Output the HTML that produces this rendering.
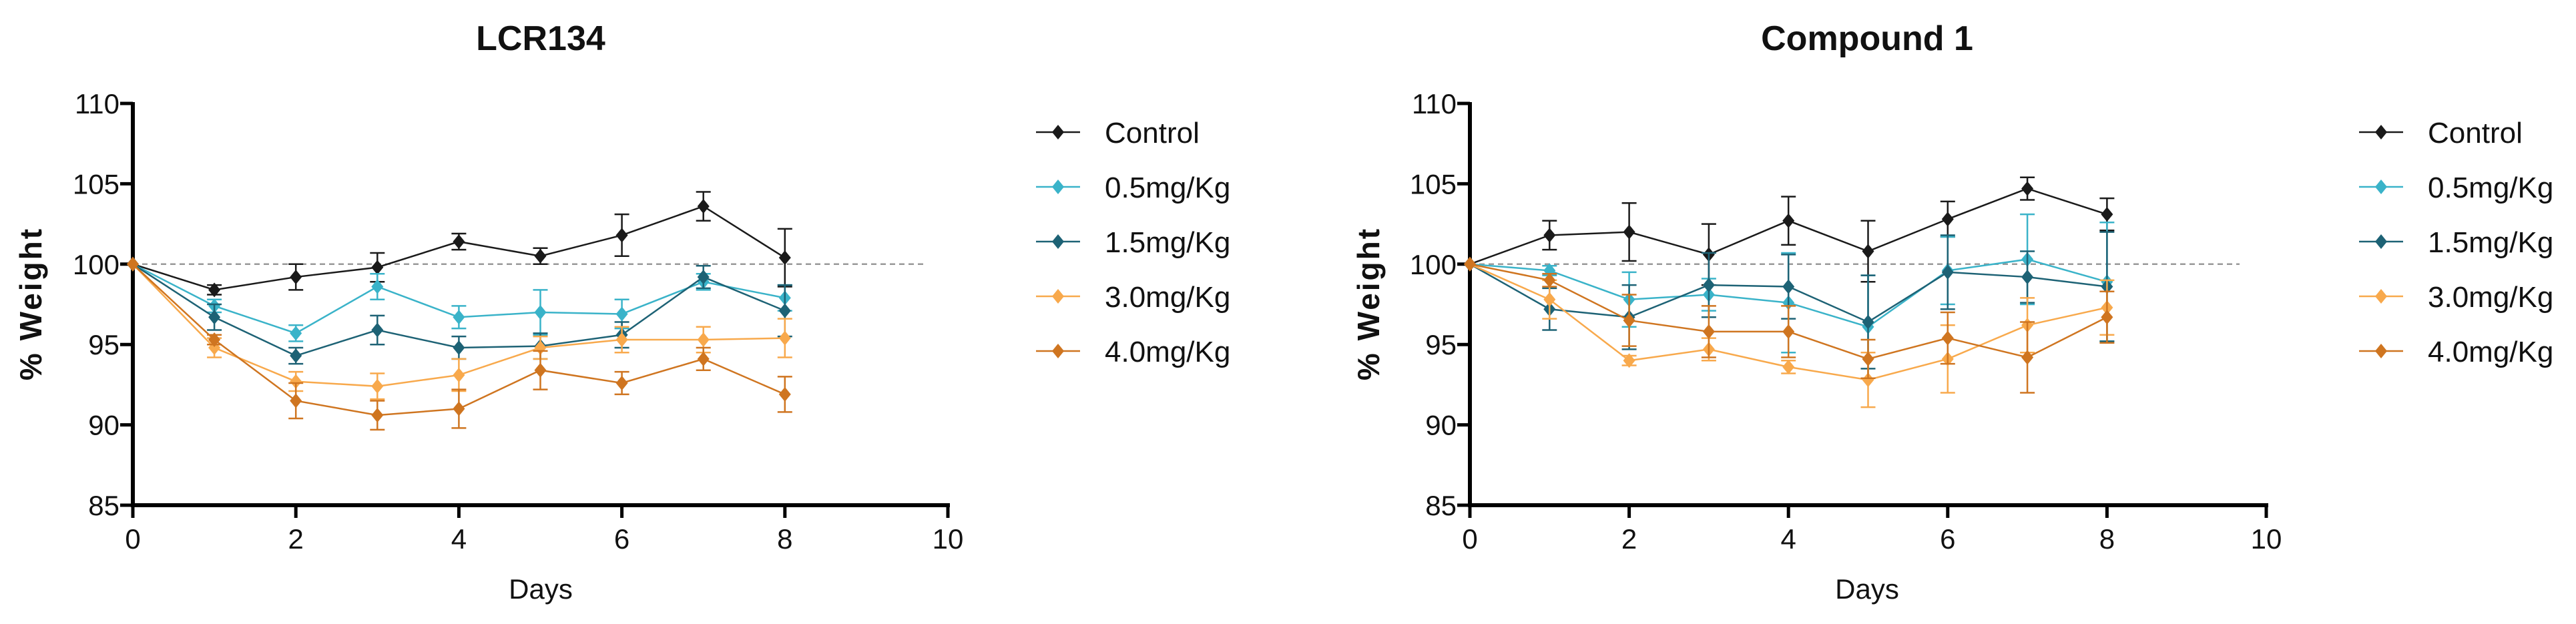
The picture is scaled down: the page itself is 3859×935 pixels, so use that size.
<!DOCTYPE html>
<html><head><meta charset="utf-8"><style>
html,body{margin:0;padding:0;background:#fff;}
svg{display:block;font-family:"Liberation Sans",Arial,sans-serif;}
</style></head><body>
<svg id="chart" width="3859" height="935" viewBox="0 0 3859 935" xmlns="http://www.w3.org/2000/svg"></svg>
<script>
const days = [0,1,2,3,4,5,6,7,8];
const seriesNames = ["Control","0.5mg/Kg","1.5mg/Kg","3.0mg/Kg","4.0mg/Kg"];
const colors = ["#1a1a1a","#3ab3c9","#1d6275","#f8a94c","#cf7520"];
const yTicks = [85,90,95,100,105,110];
const xTicks = [0,2,4,6,8,10];
const lcrControl = [100,98.4,99.2,99.8,101.4,100.5,101.8,103.6,100.4];
const lcrControlErr = [0,0.3,0.8,0.9,0.5,0.5,1.3,0.9,1.8];
const lcr05 = [100,97.4,95.7,98.6,96.7,97.0,96.9,98.9,97.9];
const lcr05Err = [0,0.4,0.5,0.8,0.7,1.4,0.9,0.5,0.8];
const lcr15 = [100,96.7,94.3,95.9,94.8,94.9,95.6,99.2,97.1];
const lcr15Err = [0,0.8,0.5,0.9,0.7,0.8,0.8,0.7,1.6];
const lcr30 = [100,94.8,92.7,92.4,93.1,94.8,95.3,95.3,95.4];
const lcr30Err = [0,0.6,0.6,0.8,1.0,0.7,0.8,0.8,1.2];
const lcr40 = [100,95.3,91.5,90.6,91.0,93.4,92.6,94.1,91.9];
const lcr40Err = [0,0.3,1.1,0.9,1.2,1.2,0.7,0.7,1.1];
const c1Control = [100,101.8,102.0,100.6,102.7,100.8,102.8,104.7,103.1];
const c1ControlErr = [0,0.9,1.8,1.9,1.5,1.9,1.1,0.7,1.0];
const c105 = [100,99.6,97.8,98.1,97.6,96.1,99.6,100.3,98.9];
const c105Err = [0,0.3,1.7,1.0,3.1,3.2,2.1,2.8,3.7];
const c115 = [100,97.2,96.7,98.7,98.6,96.4,99.5,99.2,98.6];
const c115Err = [0,1.3,2.0,2.0,2.0,2.9,2.3,1.6,3.4];
const c130 = [100,97.8,94.0,94.7,93.6,92.8,94.1,96.2,97.3];
const c130Err = [0,1.2,0.3,0.7,0.4,1.7,2.1,1.7,1.7];
const c140 = [100,99.0,96.5,95.8,95.8,94.1,95.4,94.2,96.7];
const c140Err = [0,0.4,1.6,1.6,1.6,1.2,1.6,2.2,1.6];

const NS="http://www.w3.org/2000/svg";
const svg=document.getElementById('chart');
function mk(tag,attrs,parent){const e=document.createElementNS(NS,tag);for(const k in attrs)e.setAttribute(k,attrs[k]);(parent||svg).appendChild(e);return e;}

function drawPanel(p){
  const g=mk('g',{});
  
  
  const xs=v=>p.x0+(v-0)/(10-0)*(p.x1-p.x0);
  const ys=v=>p.y0-(v-85)/(110-85)*(p.y0-p.y1);
  const t=mk('text',{x:p.titleX,y:75,'text-anchor':'middle','font-size':52,'font-weight':'bold',fill:'#111'},g);
  t.textContent=p.title;
  
  
  // reference line
  const ref=mk('line',{x1:xs(0),x2:p.refEnd,y1:ys(100),y2:ys(100),stroke:'#999','stroke-width':2.5,'stroke-dasharray':'8,6'},g);
  
  
  // axes
  const ya=mk('line',{x1:p.x0,x2:p.x0,y1:p.y1-2,y2:p.y0+3,stroke:'#000','stroke-width':6},g);
  
  
  const xa=mk('line',{x1:p.x0-3,x2:xs(10)+3,y1:p.y0,y2:p.y0,stroke:'#000','stroke-width':6},g);
  
  
  yTicks.forEach(v=>{
    mk('line',{x1:p.x0-19,x2:p.x0,y1:ys(v),y2:ys(v),stroke:'#000','stroke-width':5},g);
    const l=mk('text',{x:p.x0-20,y:ys(v)+15,'text-anchor':'end','font-size':42,fill:'#111'},g);
    l.textContent=v;
    
    
  });
  xTicks.forEach(v=>{
    mk('line',{x1:xs(v),x2:xs(v),y1:p.y0,y2:p.y0+19,stroke:'#000','stroke-width':5},g);
    const l=mk('text',{x:xs(v),y:p.y0+65,'text-anchor':'middle','font-size':42,fill:'#111'},g);
    l.textContent=v;
    
    
  });
  const xl=mk('text',{x:p.titleX,y:897,'text-anchor':'middle','font-size':42,fill:'#111'},g);
  xl.textContent='Days';
  
  
  const yl=mk('text',{x:0,y:0,'text-anchor':'middle','font-size':46,'font-weight':'bold',fill:'#111','letter-spacing':'3',transform:`translate(${p.yLabX},455) rotate(-90)`},g);
  yl.textContent='% Weight';
  
  
  // series
  p.series.forEach((s,i)=>{
    const sg=mk('g',{},g);
    
    
    const c=colors[i];
    s.vals.forEach((v,j)=>{
      const e=s.err[j]; if(!e) return;
      const x=xs(days[j]);
      mk('line',{x1:x,x2:x,y1:ys(v-e),y2:ys(v+e),stroke:c,'stroke-width':2.5},sg);
      mk('line',{x1:x-11,x2:x+11,y1:ys(v-e),y2:ys(v-e),stroke:c,'stroke-width':2.5},sg);
      mk('line',{x1:x-11,x2:x+11,y1:ys(v+e),y2:ys(v+e),stroke:c,'stroke-width':2.5},sg);
    });
    const pts=s.vals.map((v,j)=>xs(days[j])+','+ys(v)).join(' ');
    const pl=mk('polyline',{points:pts,fill:'none',stroke:c,'stroke-width':2.5},sg);
    
    
    s.vals.forEach((v,j)=>{
      const x=xs(days[j]),y=ys(v);
      const m=mk('polygon',{points:`${x},${y-11} ${x+9},${y} ${x},${y+11} ${x-9},${y}`,fill:c},sg);
      
      
    });
  });
  // legend
  const lg=mk('g',{},g);
  
  
  seriesNames.forEach((n,i)=>{
    const y=198+i*82;
    const eg=mk('g',{},lg);
    
    
    mk('line',{x1:p.legX,x2:p.legX+66,y1:y,y2:y,stroke:colors[i],'stroke-width':2.5},eg);
    mk('polygon',{points:`${p.legX+33},${y-11} ${p.legX+42},${y} ${p.legX+33},${y+11} ${p.legX+24},${y}`,fill:colors[i]},eg);
    const tx=mk('text',{x:p.legX+103,y:y+16,'font-size':44,fill:'#111'},eg);
    tx.textContent=n;
  });
}

drawPanel({key:'lcr134',title:'LCR134',titleX:810,x0:199,x1:1420,y0:757,y1:155,refEnd:1383,yLabX:62,legX:1552,
  series:[{vals:lcrControl,err:lcrControlErr},{vals:lcr05,err:lcr05Err},{vals:lcr15,err:lcr15Err},{vals:lcr30,err:lcr30Err},{vals:lcr40,err:lcr40Err}]});
drawPanel({key:'compound1',title:'Compound 1',titleX:2797,x0:2202,x1:3395,y0:757,y1:155,refEnd:3355,yLabX:2066,legX:3534,
  series:[{vals:c1Control,err:c1ControlErr},{vals:c105,err:c105Err},{vals:c115,err:c115Err},{vals:c130,err:c130Err},{vals:c140,err:c140Err}]});
</script>
</body></html>
